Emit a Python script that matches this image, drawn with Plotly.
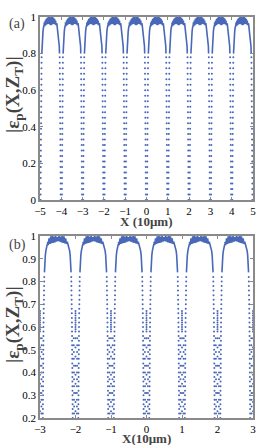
import plotly.graph_objects as go

# ---------------- data ----------------
# panel (a): dips at every integer X
dips_a = [-5, -4, -3, -2, -1, 0, 1, 2, 3, 4, 5]
# arc leaving a dip: distance from dip (X units) and |eps_p|
arc_a_d = [0.085, 0.095, 0.105, 0.12, 0.14, 0.16, 0.185, 0.21]
arc_a_v = [0.80, 0.84, 0.87, 0.895, 0.92, 0.94, 0.955, 0.965]
# plateau band (distance 0.21 .. 0.79): upper and lower edges of the noisy band
band_a_top = [0.965, 0.98, 0.99, 0.995, 1.0, 1.0, 0.998, 1.0, 1.0, 0.995, 0.99, 0.98, 0.965]
band_a_bot = [0.95, 0.955, 0.96, 0.962, 0.962, 0.958, 0.955, 0.958, 0.962, 0.962, 0.96, 0.955, 0.95]
# dotted steep column in each dip
col_a_v = [0.78, 0.75, 0.72, 0.69, 0.66, 0.63, 0.60, 0.57, 0.54, 0.51, 0.48, 0.45, 0.42, 0.39,
           0.36, 0.33, 0.30, 0.27, 0.24, 0.21, 0.18, 0.15, 0.12, 0.09, 0.06, 0.03, 0.0]
col_a_d = [0.075, 0.073, 0.071, 0.069, 0.067, 0.065, 0.063, 0.061, 0.059, 0.057, 0.055, 0.053, 0.051, 0.049,
           0.047, 0.045, 0.043, 0.041, 0.039, 0.037, 0.035, 0.034, 0.033, 0.032, 0.031, 0.030, 0.030]

# panel (b): dips at every integer X
dips_b = [-3, -2, -1, 0, 1, 2, 3]
arc_b_d = [0.125, 0.13, 0.14, 0.15, 0.165, 0.18, 0.20, 0.22]
arc_b_v = [0.84, 0.87, 0.895, 0.915, 0.935, 0.95, 0.96, 0.968]
band_b_top = [0.975, 0.99, 0.998, 1.0, 0.997, 1.0, 0.995, 1.0, 0.997, 1.0, 0.998, 0.99, 0.975]
band_b_bot = [0.96, 0.965, 0.968, 0.97, 0.972, 0.975, 0.978, 0.975, 0.972, 0.97, 0.968, 0.965, 0.96]
col_b_v = [0.82, 0.80, 0.78, 0.76, 0.74, 0.72, 0.70, 0.68, 0.66, 0.64, 0.62, 0.60, 0.58, 0.56, 0.54,
           0.52, 0.50, 0.48, 0.46, 0.44, 0.42, 0.40, 0.38, 0.36, 0.34, 0.32, 0.30, 0.28, 0.26, 0.24, 0.22, 0.20]
col_b_d = [0.12, 0.118, 0.116, 0.114, 0.112, 0.11, 0.108, 0.106, 0.104, 0.102, 0.10, 0.099, 0.098, 0.097,
           0.096, 0.095, 0.094, 0.093, 0.092, 0.091, 0.09, 0.089, 0.088, 0.087, 0.086, 0.085, 0.084, 0.083,
           0.082, 0.081, 0.080, 0.080]
inner_b_v = [0.55, 0.52, 0.49, 0.46, 0.43, 0.40, 0.37, 0.34, 0.31, 0.28, 0.25, 0.22]
inner_b_d = [0.05, 0.048, 0.046, 0.045, 0.044, 0.043, 0.042, 0.041, 0.040, 0.040, 0.040, 0.040]
spike_b_v = [0.67, 0.66, 0.65, 0.64, 0.63, 0.62, 0.61, 0.60, 0.59, 0.58, 0.55, 0.51, 0.47, 0.43,
             0.39, 0.35, 0.31, 0.27, 0.23]

yticks_a = [0, 0.2, 0.4, 0.6, 0.8, 1]
yticks_b = [0.2, 0.3, 0.4, 0.5, 0.6, 0.7, 0.8, 0.9, 1]
xticks_a = [-5, -4, -3, -2, -1, 0, 1, 2, 3, 4, 5]
xticks_b = [-3, -2, -1, 0, 1, 2, 3]

BLUE = "#4a68b8"


def build(dips, arc_d, arc_v, top, bot, cols):
    """Assemble the point cloud from the read profiles, placed at each dip."""
    lx, ly = [], []   # band / arcs (connected)
    dx, dy = [], []   # dotted columns
    n = len(top)
    for i in range(len(dips) - 1):
        c0, c1 = dips[i], dips[i + 1]
        span = c1 - c0
        for d, v in zip(arc_d, arc_v):
            lx.append(c0 + d); ly.append(v)
        d0, d1 = arc_d[-1], span - arc_d[-1]
        for k in range(n):
            p = d0 + (d1 - d0) * k / (n - 1)
            lx.append(c0 + p - 0.012); ly.append(top[k])
            lx.append(c0 + p + 0.012); ly.append(bot[k])
        for d, v in zip(reversed(arc_d), reversed(arc_v)):
            lx.append(c1 - d); ly.append(v)
        lx.append(None); ly.append(None)
    # also the arcs outside the first/last dip (clipped by axis)
    for c, s in ((dips[0], -1), (dips[-1], 1)):
        for d, v in zip(arc_d, arc_v):
            lx.append(c + s * d); ly.append(v)
        lx.append(None); ly.append(None)
    for c in dips:
        for vals, offs, sides in cols:
            for v, d in zip(vals, offs):
                for sgn in sides:
                    dx.append(c + sgn * d); dy.append(v)
    return lx, ly, dx, dy


la_x, la_y, da_x, da_y = build(dips_a, arc_a_d, arc_a_v, band_a_top, band_a_bot,
                               [(col_a_v, col_a_d, (-1, 1))])
lb_x, lb_y, db_x, db_y = build(dips_b, arc_b_d, arc_b_v, band_b_top, band_b_bot,
                               [(col_b_v, col_b_d, (-1, 1)),
                                (inner_b_v, inner_b_d, (-1, 1)),
                                (spike_b_v, [0.0] * len(spike_b_v), (1,))])

fig = go.Figure()
fig.add_trace(go.Scatter(x=la_x, y=la_y, mode="lines", line=dict(color=BLUE, width=1.6),
                         xaxis="x", yaxis="y", hoverinfo="skip"))
fig.add_trace(go.Scatter(x=da_x, y=da_y, mode="markers", marker=dict(color=BLUE, size=2),
                         xaxis="x", yaxis="y", hoverinfo="skip"))
fig.add_trace(go.Scatter(x=lb_x, y=lb_y, mode="lines", line=dict(color=BLUE, width=1.6),
                         xaxis="x2", yaxis="y2", hoverinfo="skip"))
fig.add_trace(go.Scatter(x=db_x, y=db_y, mode="markers", marker=dict(color=BLUE, size=2),
                         xaxis="x2", yaxis="y2", hoverinfo="skip"))

W, H = 279, 445
FONT = "Liberation Serif"
xdom = [40 / W, 253 / W]
ax_common = dict(showline=True, linecolor="#8a8a8a", linewidth=1.5, mirror="ticks",
                 ticks="inside", ticklen=3, tickcolor="#8a8a8a", showgrid=False,
                 zeroline=False, automargin=False,
                 tickfont=dict(family=FONT, size=11, color="black"))

fig.update_layout(
    template="none",
    width=W, height=H, margin=dict(l=0, r=0, t=0, b=0, autoexpand=False),
    paper_bgcolor="white", plot_bgcolor="white", showlegend=False,
    xaxis=dict(domain=xdom, range=[-5, 5], tickvals=xticks_a, anchor="y", **ax_common),
    yaxis=dict(domain=[1 - 200 / H, 1 - 17 / H], range=[0, 1], tickvals=yticks_a,
               ticktext=[f"{v:g}" for v in yticks_a], anchor="x", **ax_common),
    xaxis2=dict(domain=xdom, range=[-3, 3], tickvals=xticks_b, anchor="y2", **ax_common),
    yaxis2=dict(domain=[1 - 418 / H, 1 - 236 / H], range=[0.2, 1], tickvals=yticks_b,
                ticktext=[f"{v:g}" for v in yticks_b], anchor="x2", **ax_common),
)

ann = [
    dict(text="(a)", x=7 / W, y=1 - 24 / H, xanchor="left", yanchor="middle",
         font=dict(family=FONT, size=14)),
    dict(text="(b)", x=7 / W, y=1 - 245 / H, xanchor="left", yanchor="middle",
         font=dict(family=FONT, size=14)),
    dict(text="<b>X (10μm)</b>", x=146 / W, y=1 - 221 / H, xanchor="center", yanchor="middle",
         font=dict(family=FONT, size=13)),
    dict(text="<b>X(10μm)</b>", x=146 / W, y=1 - 438 / H, xanchor="center", yanchor="middle",
         font=dict(family=FONT, size=13)),
    dict(text="<b>|ε<sub>p</sub>(X,Z<sub>T</sub>)|</b>", x=14 / W, y=1 - 95 / H, textangle=-90,
         xanchor="center", yanchor="middle", font=dict(family=FONT, size=19)),
    dict(text="<b>|ε<sub>p</sub>(X,Z<sub>T</sub>)|</b>", x=14 / W, y=1 - 325 / H, textangle=-90,
         xanchor="center", yanchor="middle", font=dict(family=FONT, size=19)),
]
for a in ann:
    a.update(xref="paper", yref="paper", showarrow=False)
fig.update_layout(annotations=ann)

fig.write_html("out.html", config={"displayModeBar": False},
               post_script="document.body.style.margin='0';")
